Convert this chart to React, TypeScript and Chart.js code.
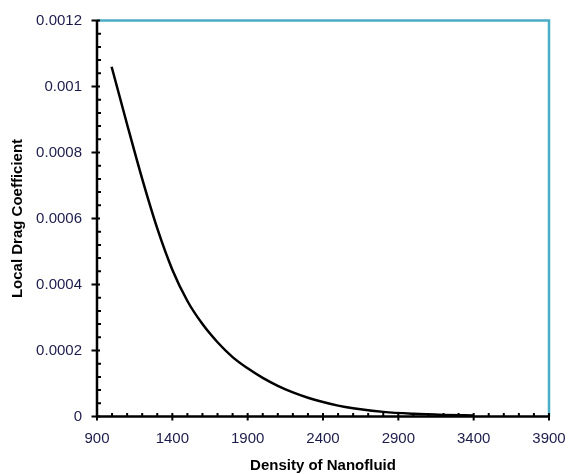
import React, { useEffect, useRef } from "react";
import { Chart, registerables } from "chart.js";

Chart.register(...registerables);

const densityValues = [997, 1100, 1200, 1300, 1400, 1500, 1600, 1700, 1800, 1900, 2000, 2100, 2200, 2300, 2400, 2500, 2600, 2800, 3000, 3200, 3400];
const dragValues = [0.00106, 0.000885, 0.00072, 0.00057, 0.000445, 0.00035, 0.00028, 0.000225, 0.00018, 0.000146, 0.000117, 0.000093, 0.000073, 0.000057, 0.000044, 0.000033, 0.000025, 0.000014, 0.0000082, 0.0000048, 0.0000028];

const xTickValues = [900, 1400, 1900, 2400, 2900, 3400, 3900];
const xTickLabels = ["900", "1400", "1900", "2400", "2900", "3400", "3900"];
const yTickValues = [0, 0.0002, 0.0004, 0.0006, 0.0008, 0.001, 0.0012];
const yTickLabels = ["0", "0.0002", "0.0004", "0.0006", "0.0008", "0.001", "0.0012"];

const xTitle = "Density of Nanofluid";
const yTitle = "Local Drag Coefficient";

const FONT = 'Arial, "Liberation Sans", sans-serif';
const LABEL_COLOR = "#1c1c4c";
const FRAME_COLOR = "#4bacc6";

function labelFor(values: number[], labels: string[], v: number) {
  let best = 0;
  for (let i = 1; i < values.length; i++) {
    if (Math.abs(values[i] - v) < Math.abs(values[best] - v)) best = i;
  }
  return labels[best];
}

const tickPlugin = {
  id: "tickMarks",
  afterDraw(chart: any) {
    const { ctx, chartArea, scales } = chart;
    const xs = scales.x;
    const ys = scales.y;
    const L = chartArea.left;
    const B = chartArea.bottom;
    ctx.save();
    ctx.strokeStyle = FRAME_COLOR;
    ctx.lineWidth = 2.5;
    ctx.beginPath();
    ctx.moveTo(L, chartArea.top);
    ctx.lineTo(chartArea.right, chartArea.top);
    ctx.lineTo(chartArea.right, B);
    ctx.stroke();

    ctx.strokeStyle = "#000";
    ctx.lineWidth = 2;
    ctx.beginPath();
    for (let i = 0; i <= 30; i++) {
      const v = i * 0.00004;
      const py = ys.getPixelForValue(v);
      if (i % 5 === 0) {
        ctx.moveTo(L - 5.5, py);
        ctx.lineTo(L + 3, py);
      } else {
        ctx.moveTo(L, py);
        ctx.lineTo(L + 4, py);
      }
    }
    for (let i = 0; i <= 30; i++) {
      const v = 900 + i * 100;
      const px = xs.getPixelForValue(v);
      if (i % 5 === 0) {
        ctx.moveTo(px, B - 3.5);
        ctx.lineTo(px, B + 4);
      } else {
        ctx.moveTo(px, B - 3.5);
        ctx.lineTo(px, B);
      }
    }
    ctx.stroke();
    ctx.lineWidth = 2.5;
    ctx.beginPath();
    ctx.moveTo(L, chartArea.top);
    ctx.lineTo(L, B);
    ctx.lineTo(chartArea.right, B);
    ctx.stroke();
    ctx.restore();
  },
};

export default function App() {
  const ref = useRef<HTMLCanvasElement | null>(null);

  useEffect(() => {
    if (!ref.current) return;
    const chart = new Chart(ref.current, {
      type: "line",
      data: {
        datasets: [
          {
            data: densityValues.map((x, i) => ({ x, y: dragValues[i] })),
            borderColor: "#000",
            borderWidth: 2.5,
            pointRadius: 0,
            fill: false,
            cubicInterpolationMode: "monotone",
          },
        ],
      },
      options: {
        animation: false,
        responsive: false,
        maintainAspectRatio: false,
        layout: { padding: { top: 20.5, right: 20, left: 0, bottom: 0 } },
        plugins: { legend: { display: false }, tooltip: { enabled: false } },
        scales: {
          x: {
            type: "linear",
            min: 900,
            max: 3900,
            afterFit: (s: any) => {
              s.height = 57.5;
              s.paddingLeft = 0;
              s.paddingRight = 0;
            },
            afterBuildTicks: (s: any) => {
              s.ticks = xTickValues.map((v) => ({ value: v }));
            },
            grid: { display: false, drawTicks: false },
            border: { display: false },
            ticks: {
              autoSkip: false,
              maxRotation: 0,
              padding: 13,
              color: LABEL_COLOR,
              font: { family: FONT, size: 15 },
              callback: (v: any) => labelFor(xTickValues, xTickLabels, Number(v)),
            },
            title: {
              display: true,
              text: xTitle,
              color: "#000",
              font: { family: FONT, size: 15, weight: "bold" },
              padding: { top: 0, bottom: -1 },
            },
          },
          y: {
            type: "linear",
            min: 0,
            max: 0.0012,
            afterFit: (s: any) => {
              s.width = 97;
              s.paddingTop = 0;
              s.paddingBottom = 0;
            },
            afterBuildTicks: (s: any) => {
              s.ticks = yTickValues.map((v) => ({ value: v }));
            },
            grid: { display: false, drawTicks: false },
            border: { display: false },
            ticks: {
              padding: 15,
              color: LABEL_COLOR,
              font: { family: FONT, size: 15 },
              callback: (v: any) => labelFor(yTickValues, yTickLabels, Number(v)),
            },
            title: {
              display: true,
              text: yTitle,
              color: "#000",
              font: { family: FONT, size: 15, weight: "bold" },
              padding: { top: 8.5, bottom: 0 },
            },
          },
        },
      },
      plugins: [tickPlugin],
    } as any);
    return () => chart.destroy();
  }, []);

  return (
    <div style={{ position: "absolute", left: 0, top: 0, width: 569, height: 474, background: "#fff" }}>
      <canvas ref={ref} width={569} height={474} style={{ display: "block" }} />
    </div>
  );
}
